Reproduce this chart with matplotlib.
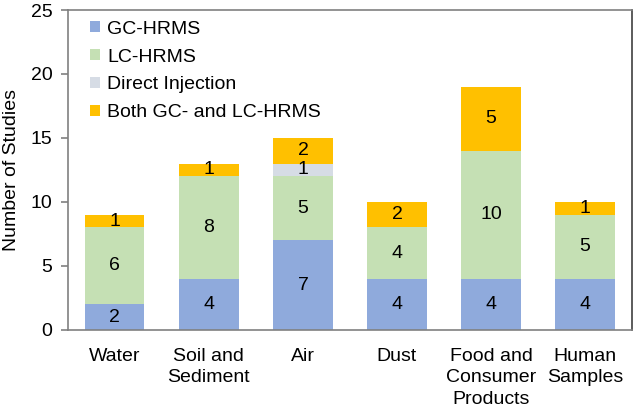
import numpy as np
import matplotlib.pyplot as plt

plt.rcParams['font.family'] = ['Liberation Sans', 'DejaVu Sans']

categories = ["Water", "Soil and\nSediment", "Air", "Dust", "Food and\nConsumer\nProducts", "Human\nSamples"]
gc_hrms = [2, 4, 7, 4, 4, 4]
lc_hrms = [6, 8, 5, 4, 10, 5]
direct_inj = [0, 0, 1, 0, 0, 0]
both = [1, 1, 2, 2, 5, 1]

series = [("GC-HRMS", gc_hrms, "#8faadc"),
          ("LC-HRMS", lc_hrms, "#c5e0b4"),
          ("Direct Injection", direct_inj, "#d6dce5"),
          ("Both GC- and LC-HRMS", both, "#ffc000")]

fs = 14

fig = plt.figure(figsize=(6.34, 4.17), dpi=100)
ax = fig.add_axes([0.107, 0.209, 0.890, 0.767])

x = np.arange(len(categories))
bottom = np.zeros(len(categories))
for name, vals, color in series:
    vals = np.array(vals, dtype=float)
    ax.bar(x, vals, 0.63, bottom=bottom, color=color, label=name)
    for xi, b, v in zip(x, bottom, vals):
        if v > 0:
            ax.text(xi, b + v / 2, str(int(v)), ha="center", va="center", fontsize=fs)
    bottom += vals

ax.set_xlim(-0.5, len(categories) - 0.5)
ax.set_ylim(0, 25)
ax.set_yticks(range(0, 26, 5))
ax.set_xticks(x)
ax.set_xticklabels(categories, fontsize=fs, linespacing=1.35)
ax.tick_params(axis="x", length=0, pad=13)
ax.tick_params(axis="y", labelsize=fs, length=5, color="#808080", width=1.2, pad=6)
ax.set_ylabel("Number of Studies", fontsize=fs, labelpad=8)
for side in ["left", "bottom", "top", "right"]:
    ax.spines[side].set_color("#808080")
    ax.spines[side].set_linewidth(1.2)
ax.spines["right"].set_color("#404040")

ax.legend(loc="upper left", frameon=False, fontsize=fs, handlelength=0.5, handleheight=0.5,
          handletextpad=0.4, labelspacing=0.56, borderaxespad=0.15, bbox_to_anchor=(0.02, 1.0))

plt.savefig("out.png")
